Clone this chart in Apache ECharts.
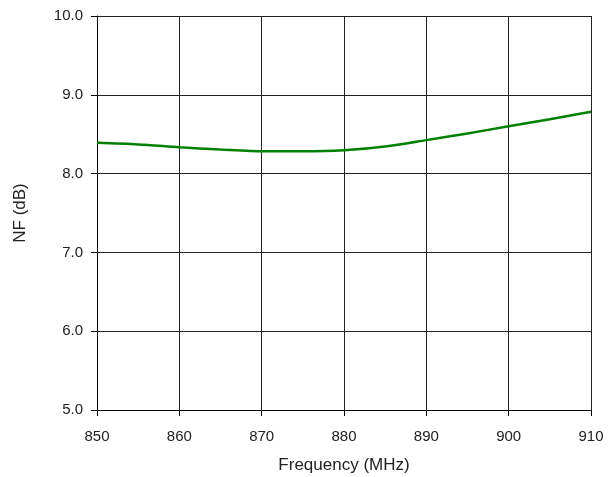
<!DOCTYPE html>
<html><head><meta charset="utf-8">
<script src="https://cdn.jsdelivr.net/npm/echarts@6/dist/echarts.min.js"></script>
<style>html,body{margin:0;padding:0;background:#fff}#c{width:611px;height:477px}</style>
</head><body><div id="c"></div>
<script>
const freq = [850, 855, 860, 865, 870, 875, 880, 885, 890, 895, 900, 905, 910];
const nf = [8.39, 8.37, 8.335, 8.305, 8.285, 8.283, 8.297, 8.345, 8.425, 8.51, 8.60, 8.69, 8.785];
const chart = echarts.init(document.getElementById('c'));
const font = 'Liberation Sans, Arial, sans-serif';
chart.setOption({
  animation: false,
  grid: {left: 97, right: 20, top: 16, bottom: 67, outerBoundsMode: 'none'},
  xAxis: {
    type: 'value', min: 850, max: 910, interval: 10,
    name: 'Frequency (MHz)', nameLocation: 'middle', nameGap: 47,
    nameTextStyle: {fontFamily: font, fontSize: 17, color: '#222'},
    axisLine: {lineStyle: {color: '#000', width: 1}},
    axisTick: {show: true, length: 6, lineStyle: {color: '#000'}},
    axisLabel: {fontFamily: font, fontSize: 15, color: '#222', margin: 19},
    splitLine: {show: true, lineStyle: {color: '#222', width: 1}}
  },
  yAxis: {
    type: 'value', min: 5, max: 10, interval: 1,
    name: 'NF (dB)', nameLocation: 'middle', nameGap: 68, nameRotate: 90,
    nameTextStyle: {fontFamily: font, fontSize: 17, color: '#222'},
    axisLine: {show: true, lineStyle: {color: '#000', width: 1}},
    axisTick: {show: true, length: 6, lineStyle: {color: '#000'}},
    axisLabel: {fontFamily: font, fontSize: 15, color: '#222', margin: 14, formatter: v => v.toFixed(1)},
    splitLine: {show: true, lineStyle: {color: '#222', width: 1}}
  },
  series: [{
    type: 'line', data: freq.map((f, i) => [f, nf[i]]), smooth: 0.3, showSymbol: false,
    lineStyle: {color: '#008000', width: 2.5}
  }]
});
</script></body></html>
